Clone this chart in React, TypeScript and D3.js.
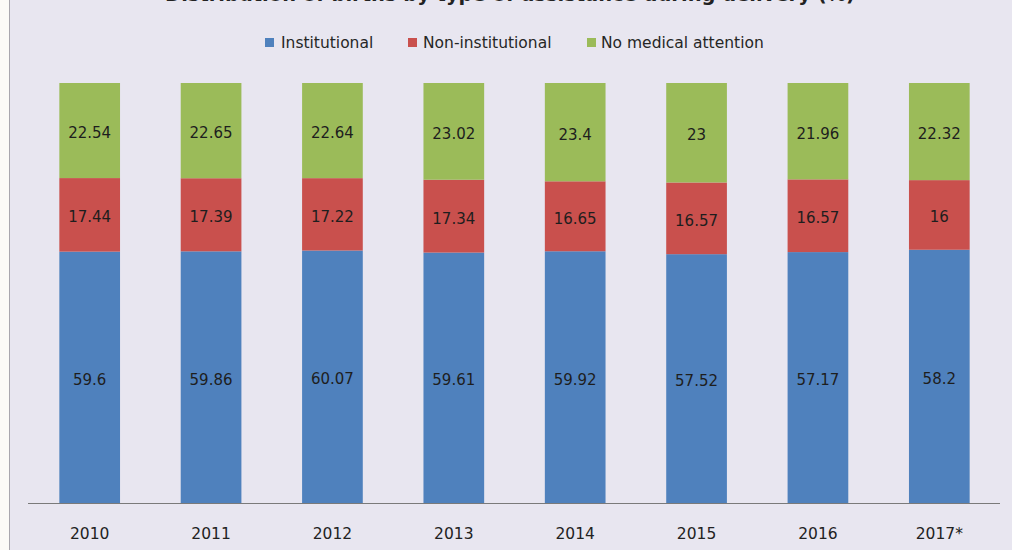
import React from "react";
import * as d3 from "d3";

const years = ["2010", "2011", "2012", "2013", "2014", "2015", "2016", "2017*"];
const institutional = [59.6, 59.86, 60.07, 59.61, 59.92, 57.52, 57.17, 58.2];
const nonInstitutional = [17.44, 17.39, 17.22, 17.34, 16.65, 16.57, 16.57, 16];
const noMedical = [22.54, 22.65, 22.64, 23.02, 23.4, 23, 21.96, 22.32];
const seriesNames = ["Institutional", "Non-institutional", "No medical attention"];
const seriesKeys = ["inst", "non", "none"];
const colors = ["#4F81BD", "#C9504D", "#9BBB59"];
const title = "Distribution of births by type of assistance during delivery (%)";

const W = 1012;
const H = 550;
const FONT = "'DejaVu Sans', sans-serif";

export default function App() {
  const rows = years.map((y, i) => ({
    year: y,
    inst: institutional[i],
    non: nonInstitutional[i],
    none: noMedical[i],
  }));
  const stack = d3.stack<any>().keys(seriesKeys).offset(d3.stackOffsetExpand);
  const layers = stack(rows);

  const x = d3.scaleBand().domain(years).range([29, 1000]).paddingInner(0.5).paddingOuter(0.25);
  const y = d3.scaleLinear().domain([0, 1]).range([503, 83]);

  const legendItems = [
    { x: 265, tx: 281 },
    { x: 408, tx: 423 },
    { x: 587, tx: 601 },
  ];

  return (
    <svg
      width={W}
      height={H}
      style={{ position: "absolute", left: 0, top: 0, display: "block" }}
      fontFamily={FONT}
    >
      <rect x={0} y={0} width={W} height={H} fill="#FBFAF7" />
      <rect x={9.5} y={-10} width={W + 20} height={H + 20} fill="#E8E6F0" stroke="#A8A6AE" strokeWidth={1} />
      <text x={510} y={1} textAnchor="middle" fontSize={20} fontWeight="bold" fill="#222" textLength={690} lengthAdjust="spacingAndGlyphs">
        {title}
      </text>

      {/* legend */}
      {seriesNames.map((name, i) => (
        <g key={name}>
          <rect x={legendItems[i].x} y={38} width={9} height={9} fill={colors[i]} />
          <text x={legendItems[i].tx} y={48} fontSize={15.5} fill="#262626">
            {name}
          </text>
        </g>
      ))}

      {/* bars */}
      {layers.map((layer, li) => (
        <g key={layer.key} fill={colors[li]}>
          {layer.map((d, i) => (
            <rect
              key={i}
              x={x(years[i])}
              y={y(d[1])}
              width={x.bandwidth()}
              height={y(d[0]) - y(d[1])}
            />
          ))}
        </g>
      ))}

      {/* data labels */}
      {layers.map((layer, li) => (
        <g key={"l" + layer.key}>
          {layer.map((d, i) => {
            const vals = [institutional, nonInstitutional, noMedical][li];
            const cy = (y(d[0]) + y(d[1])) / 2;
            return (
              <text
                key={i}
                x={(x(years[i]) as number) + x.bandwidth() / 2}
                y={cy}
                dy="0.5em"
                textAnchor="middle"
                fontSize={15}
                fill="#1e1e1e"
              >
                {String(vals[i])}
              </text>
            );
          })}
        </g>
      ))}

      {/* axis */}
      <line x1={28} x2={1000} y1={503.5} y2={503.5} stroke="#7a7a7a" strokeWidth={1} />
      {years.map((yr) => (
        <text
          key={yr}
          x={(x(yr) as number) + x.bandwidth() / 2}
          y={539}
          textAnchor="middle"
          fontSize={15.5}
          fill="#222"
        >
          {yr}
        </text>
      ))}
    </svg>
  );
}
